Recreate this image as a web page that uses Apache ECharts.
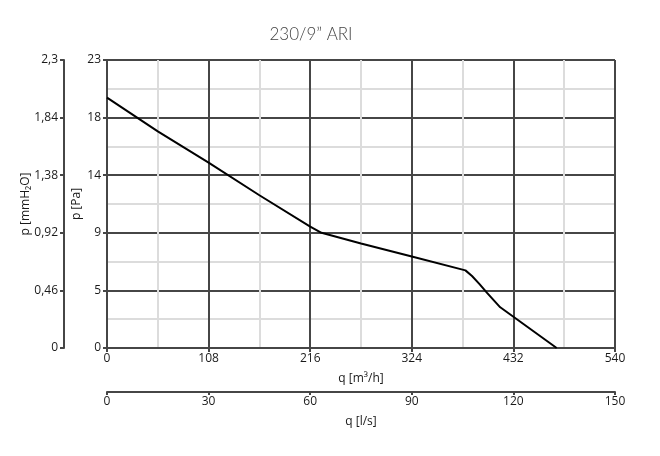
<!DOCTYPE html>
<html><head><meta charset="utf-8">
<script src="https://cdn.jsdelivr.net/npm/echarts@6/dist/echarts.min.js"></script>
<style>html,body{margin:0;padding:0;background:#fff}#c{width:660px;height:456px}</style>
</head><body><div id="c"></div>
<script>
const title = '230/9\u201d ARI';
const flowM3h = [0, 54, 108, 162, 216, 228, 270, 324, 381, 388, 396, 404, 418, 432, 478];
const pressurePa = [20, 17.3, 14.8, 12.2, 9.7, 9.2, 8.35, 7.3, 6.2, 5.75, 5.1, 4.4, 3.25, 2.5, 0];
const xRangeM3h = [0, 540, 108];
const xRangeLs = [0, 150, 30];
const yRangePa = [0, 23, 4.6];
const yRangeMm = [0, 2.3, 0.46];

const font = 'Open Sans';
const dark = '#464646';
const light = '#dcdcdc';
const labelStyle = {color: '#1a1a1a', fontSize: 12, fontFamily: font};
const nameStyle = {color: '#1a1a1a', fontSize: 12, fontFamily: font};

const chart = echarts.init(document.getElementById('c'));
chart.setOption({
  animation: false,
  title: {text: title, left: 306, top: 21, textAlign: 'center',
    textStyle: {fontFamily: 'Lato', fontWeight: 300, fontSize: 17, color: '#444'}},
  grid: {left: 107, right: 45, top: 60, bottom: 108},
  xAxis: [{
    type: 'value', min: xRangeM3h[0], max: xRangeM3h[1], interval: xRangeM3h[2],
    position: 'bottom',
    name: 'q [m\u00b3/h]', nameLocation: 'middle', nameGap: 25, nameTextStyle: nameStyle,
    axisLine: {show: true, onZero: false, lineStyle: {color: dark, width: 2}},
    axisTick: {show: true, length: 4, lineStyle: {color: dark, width: 2}},
    axisLabel: Object.assign({margin: 5}, labelStyle),
    splitLine: {show: true, lineStyle: {color: dark, width: 2}},
    minorTick: {show: false, splitNumber: 2},
    minorSplitLine: {show: true, lineStyle: {color: light, width: 2}}
  }, {
    type: 'value', min: xRangeLs[0], max: xRangeLs[1], interval: xRangeLs[2],
    position: 'bottom', offset: 44,
    name: 'q [l/s]', nameLocation: 'middle', nameGap: 24, nameTextStyle: nameStyle,
    axisLine: {show: true, onZero: false, lineStyle: {color: dark, width: 2}},
    axisTick: {show: true, length: 3, lineStyle: {color: dark, width: 2}},
    axisLabel: Object.assign({margin: 4}, labelStyle),
    splitLine: {show: false}
  }],
  yAxis: [{
    type: 'value', min: yRangePa[0], max: yRangePa[1], interval: yRangePa[2],
    position: 'left',
    name: 'p [Pa]', nameLocation: 'middle', nameGap: 24, nameMoveOverlap: false, nameTextStyle: nameStyle,
    axisLine: {show: true, onZero: false, lineStyle: {color: dark, width: 2}},
    axisTick: {show: true, length: 4, lineStyle: {color: dark, width: 2}},
    axisLabel: Object.assign({margin: 6, formatter: v => String(Math.round(v))}, labelStyle),
    splitLine: {show: true, lineStyle: {color: dark, width: 2}},
    minorTick: {show: false, splitNumber: 2},
    minorSplitLine: {show: true, lineStyle: {color: light, width: 2}}
  }, {
    type: 'value', min: yRangeMm[0], max: yRangeMm[1], interval: yRangeMm[2],
    position: 'left', offset: 43,
    name: 'p [mmH\u2082O]', nameLocation: 'middle', nameGap: 32, nameMoveOverlap: false, nameTextStyle: nameStyle,
    axisLine: {show: true, onZero: false, lineStyle: {color: dark, width: 2}},
    axisTick: {show: true, length: 4, lineStyle: {color: dark, width: 2}},
    axisLabel: Object.assign({margin: 6, formatter: v => String(Math.round(v * 100) / 100).replace('.', ',')}, labelStyle),
    splitLine: {show: false}
  }],
  series: [{
    type: 'line', xAxisIndex: 0, yAxisIndex: 0,
    data: flowM3h.map((x, i) => [x, pressurePa[i]]),
    showSymbol: false, smooth: false,
    lineStyle: {color: '#000', width: 2}, z: 5
  }]
});
</script></body></html>
